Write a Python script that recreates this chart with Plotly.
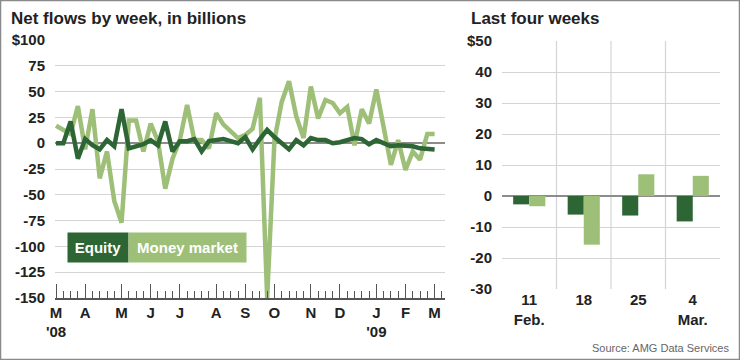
import plotly.graph_objects as go
import pandas as pd

# ---------------- data ----------------
week_start = "2008-03-05"
n_weeks = 53
equity = [0, 0, 21, -15, 4, -2, -6, 3, -3, 33,
          -5, -3, -1, 3, -2, 21, -8, 2, 2, 4,
          -8, 2, 3, 4, 2, 0, 6, -6, 4, 13,
          6, 0, -6, 3, -2, 5, 3, 3, 0, 1,
          3, 5, 4, -1, 3, 0, -3, -2, -2, -3,
          -5, -5, -6]
money_market = [17, 13, 9, 36, -6, 33, -34, -8, -56, -77,
                22, 22, -8, 19, 2, -44, -15, 3, 37, 3,
                3, -5, 29, 18, 11, 5, 8, 14, 44, -150,
                3, 40, 60, 26, 5, 55, 24, 42, 39, 29,
                35, -2, 33, 19, 52, 15, -21, 3, -26, -8,
                -16, 9, 9]
month_tickvals = ["2008-03-05", "2008-04-02", "2008-05-07", "2008-06-04", "2008-07-02",
                  "2008-08-06", "2008-09-03", "2008-10-01", "2008-11-05", "2008-12-03",
                  "2009-01-07", "2009-02-04", "2009-03-04"]
month_ticktext = ["M<br>'08", "A", "M", "J", "J", "A", "S", "O", "N", "D", "J<br>'09", "F", "M"]
left_yticks = [-150, -125, -100, -75, -50, -25, 0, 25, 50, 75, 100]
left_ytext = ["-150", "-125", "-100", "-75", "-50", "-25", "0", "25", "50", "75", "$100"]

last4_cats = ["11<br>Feb.", "18", "25", "4<br>Mar."]
last4_equity = [-2.7, -6.0, -6.3, -8.2]
last4_mm = [-3.3, -15.7, 7.0, 6.5]
right_yticks = [-30, -20, -10, 0, 10, 20, 30, 40, 50]
right_ytext = ["-30", "-20", "-10", "0", "10", "20", "30", "40", "$50"]

weeks = pd.date_range(week_start, periods=n_weeks, freq="7D")

# ---------------- styles ----------------
DARK = "#2d6535"
LIGHT = "#9dbf78"
GRID = "#d4d4d4"
ZERO = "#8c8c8c"
TXT = "#222222"
FONT = "Liberation Sans Narrow, Arial Narrow, Liberation Sans, Arial, sans-serif"
W, H = 740, 360

fig = go.Figure()
fig.add_trace(go.Scatter(x=weeks, y=money_market, mode="lines", line=dict(color=LIGHT, width=4.5),
                         xaxis="x", yaxis="y", showlegend=False, hoverinfo="skip"))
fig.add_trace(go.Scatter(x=weeks, y=equity, mode="lines", line=dict(color=DARK, width=4.5),
                         xaxis="x", yaxis="y", showlegend=False, hoverinfo="skip"))
fig.add_trace(go.Bar(x=last4_cats, y=last4_equity, marker=dict(color=DARK, line=dict(width=0)),
                     xaxis="x2", yaxis="y2", showlegend=False, hoverinfo="skip"))
fig.add_trace(go.Bar(x=last4_cats, y=last4_mm, marker=dict(color=LIGHT, line=dict(width=0)),
                     xaxis="x2", yaxis="y2", showlegend=False, hoverinfo="skip"))

def px_x(p):
    return p / W

def px_y(p):
    return 1 - p / H

tickfont = dict(family=FONT, size=15, color=TXT, weight="bold")

fig.update_layout(
    template="none",
    width=W, height=H, autosize=False,
    margin=dict(l=0, r=0, t=0, b=0, pad=0),
    paper_bgcolor="white", plot_bgcolor="white",
    barmode="group", bargap=0.41, bargroupgap=0,
    xaxis=dict(domain=[px_x(55), px_x(445)], type="date", automargin=False,
               range=["2008-03-04", "2009-03-14"],
               tickmode="array", tickvals=month_tickvals, ticktext=month_ticktext,
               ticks="inside", ticklen=14, tickwidth=1.3, tickcolor="#555",
               minor=dict(ticks="inside", ticklen=7, tickwidth=1.1, tickcolor="#555",
                          dtick=7 * 86400000, tick0=week_start, showgrid=False),
               showgrid=False, showline=True, linecolor="#555", linewidth=1.5,
               tickfont=tickfont, zeroline=False, fixedrange=True, anchor="y"),
    yaxis=dict(domain=[px_y(298), px_y(40)], range=[-150, 100], automargin=False,
               tickmode="array", tickvals=left_yticks, ticktext=left_ytext,
               showgrid=True, gridcolor=GRID, gridwidth=1.2,
               zeroline=True, zerolinecolor=ZERO, zerolinewidth=1.6,
               ticks="", ticklabelstandoff=9, tickfont=tickfont,
               showline=False, anchor="x"),
    xaxis2=dict(domain=[px_x(502), px_x(720)], type="category", automargin=False,
                showgrid=False, ticks="", tickfont=tickfont, showline=False,
                zeroline=False, anchor="y2"),
    yaxis2=dict(domain=[px_y(289), px_y(41)], range=[-30, 50], automargin=False,
                tickmode="array", tickvals=right_yticks, ticktext=right_ytext,
                showgrid=True, gridcolor=GRID, gridwidth=1.2,
                zeroline=True, zerolinecolor=ZERO, zerolinewidth=1.6,
                ticks="", ticklabelstandoff=9, tickfont=tickfont,
                showline=False, anchor="x2"),
)

shapes = []
# vertical separators between categories on the bar chart
for k in range(1, len(last4_cats)):
    shapes.append(dict(type="line", xref="x2", yref="y2 domain", x0=k - 0.5, x1=k - 0.5,
                       y0=0, y1=1, line=dict(color=GRID, width=1.2), layer="below"))
# frame
shapes.append(dict(type="rect", xref="paper", yref="paper", x0=0, x1=1, y0=0, y1=1,
                   line=dict(color="#8a8a8a", width=2.5)))
fig.update_layout(shapes=shapes)

annotations = [
    dict(text="Net flows by week, in billions", xref="paper", yref="paper",
         x=px_x(9), y=px_y(18), xanchor="left", yanchor="middle", showarrow=False,
         font=dict(family=FONT, size=17, color=TXT, weight="bold")),
    dict(text="Last four weeks", xref="paper", yref="paper",
         x=px_x(469), y=px_y(18), xanchor="left", yanchor="middle", showarrow=False,
         font=dict(family=FONT, size=17, color=TXT, weight="bold")),
    dict(text="Equity", xref="paper", yref="paper",
         x=px_x(67), y=px_y(247.5), xanchor="left", yanchor="middle", showarrow=False,
         width=60, height=29, bgcolor=DARK, borderpad=0, align="center",
         font=dict(family=FONT, size=15, color="white", weight="bold")),
    dict(text="Money market", xref="paper", yref="paper",
         x=px_x(128), y=px_y(247.5), xanchor="left", yanchor="middle", showarrow=False,
         width=117, height=29, bgcolor=LIGHT, borderpad=0, align="center",
         font=dict(family=FONT, size=15, color="white", weight="bold")),
    dict(text="Source: AMG Data Services", xref="paper", yref="paper",
         x=px_x(731), y=px_y(348), xanchor="right", yanchor="middle", showarrow=False,
         font=dict(family=FONT, size=11, color="#666666")),
]
fig.update_layout(annotations=annotations)

fig.write_html("out.html", config={"displayModeBar": False},
               post_script="document.body.style.margin='0';document.body.style.overflow='hidden';")
